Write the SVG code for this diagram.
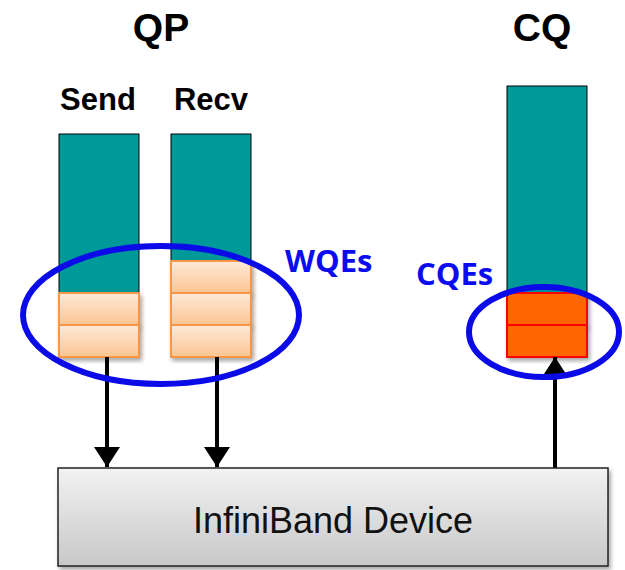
<svg xmlns="http://www.w3.org/2000/svg" width="625" height="570" viewBox="0 0 625 570">
<style>
.title{font-family:"Liberation Sans",Arial,sans-serif;font-weight:bold;font-size:39px;fill:#000;text-anchor:middle}
.sub{font-family:"Liberation Sans",Arial,sans-serif;font-weight:bold;font-size:31px;fill:#000;text-anchor:middle}
.lbl{font-family:"Open Sans","Liberation Sans",sans-serif;font-weight:bold;font-size:31px;fill:#0c0cf0}
.dev{font-family:"Liberation Sans",Arial,sans-serif;font-size:36px;fill:#111;text-anchor:middle}
.teal{fill:#009999;stroke:#000;stroke-width:1}
.wqe{fill:url(#peach);stroke:#f79646;stroke-width:2}
.cqe{fill:#ff6600;stroke:#ff0000;stroke-width:2}
.ring{fill:none;stroke:#0b0be8;stroke-width:6}
.conn{stroke:#000;stroke-width:4;fill:none}
</style>
<defs>
<linearGradient id="peach" x1="0" y1="0" x2="0" y2="1">
<stop offset="0" stop-color="#fde9d9"/>
<stop offset="1" stop-color="#fbc590"/>
</linearGradient>
<linearGradient id="gray" x1="0" y1="0" x2="0" y2="1">
<stop offset="0" stop-color="#f2f2f2"/>
<stop offset="1" stop-color="#c8c8c8"/>
</linearGradient>
<marker id="ah" viewBox="0 0 20 26" markerWidth="20" markerHeight="26" refX="20" refY="13" orient="auto" markerUnits="userSpaceOnUse">
<path d="M0,0 L20,13 L0,26 z" fill="#000"/>
</marker>
<filter id="sh" x="-10%" y="-10%" width="130%" height="130%">
<feDropShadow dx="2" dy="3" stdDeviation="2" flood-color="#000" flood-opacity="0.35"/>
</filter>
</defs>

<g id="titles">
<text class="title" x="161" y="41">QP</text>
<text class="title" x="542" y="41">CQ</text>
<text class="sub" x="98" y="110">Send</text>
<text class="sub" x="211" y="110">Recv</text>
</g>

<g id="send-queue">
<rect class="teal" x="59" y="134" width="80" height="159"/>
<rect class="wqe" x="59" y="293" width="80" height="32" filter="url(#sh)"/>
<rect class="wqe" x="59" y="325" width="80" height="32" filter="url(#sh)"/>
</g>

<g id="recv-queue">
<rect class="teal" x="171" y="134" width="80" height="127"/>
<rect class="wqe" x="171" y="261" width="80" height="32" filter="url(#sh)"/>
<rect class="wqe" x="171" y="293" width="80" height="32" filter="url(#sh)"/>
<rect class="wqe" x="171" y="325" width="80" height="32" filter="url(#sh)"/>
</g>

<g id="completion-queue">
<rect class="teal" x="507" y="86" width="80" height="207"/>
<rect class="cqe" x="507" y="293" width="80" height="32" filter="url(#sh)"/>
<rect class="cqe" x="507" y="325" width="80" height="32" filter="url(#sh)"/>
</g>

<g id="connectors">
<line class="conn" x1="107" y1="357" x2="107" y2="467" marker-end="url(#ah)"/>
<line class="conn" x1="217" y1="357" x2="217" y2="467" marker-end="url(#ah)"/>
<line class="conn" x1="555" y1="468" x2="555" y2="357" marker-end="url(#ah)"/>
</g>

<g id="wqes-ring">
<ellipse class="ring" cx="161" cy="315" rx="138" ry="69"/>
<text class="lbl" x="285" y="272">WQEs</text>
</g>

<g id="cqes-ring">
<ellipse class="ring" cx="544" cy="332" rx="75" ry="45"/>
<text class="lbl" x="416" y="285">CQEs</text>
</g>

<g id="device">
<rect x="58" y="468" width="550" height="98" fill="url(#gray)" stroke="#222" stroke-width="1.5" filter="url(#sh)"/>
<text class="dev" x="333" y="533">InfiniBand Device</text>
</g>
</svg>
